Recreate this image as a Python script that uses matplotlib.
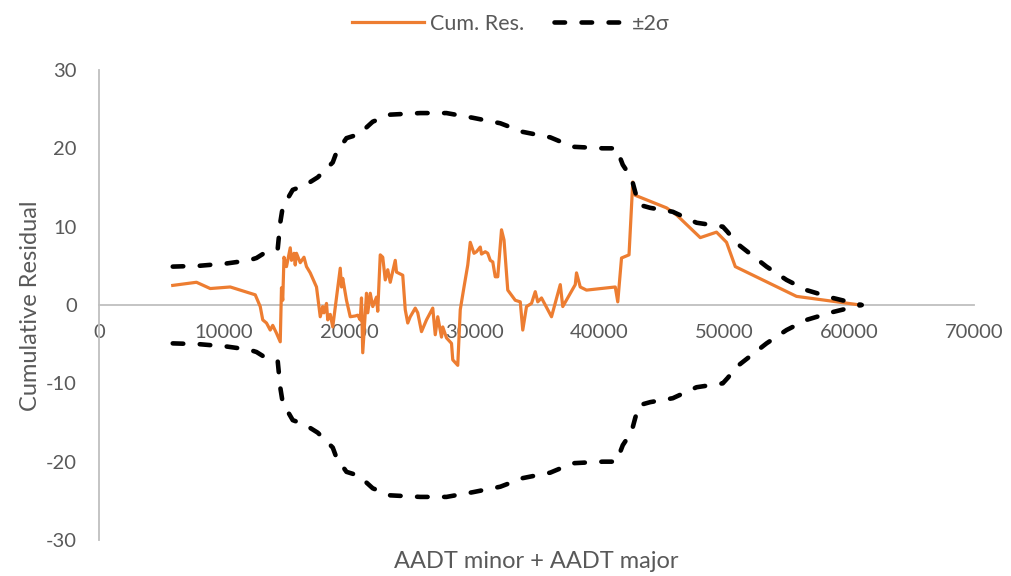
import numpy as np
import matplotlib.pyplot as plt

plt.rcParams['font.family'] = ['Lato', 'DejaVu Sans']
plt.rcParams['axes.unicode_minus'] = False

# cumulative residual
cum_x = [5900, 7800, 8900, 10500, 12500, 12900, 13100, 13400, 13700, 13900, 14200, 14500,
         14600, 14700, 14800, 15000, 15300, 15400, 15600, 15700, 15800, 16100, 16400, 16600,
         16900, 17400, 17700, 17900, 18000, 18200, 18300, 18500, 18700, 19300, 19400, 19500,
         19800, 20100, 20500, 20700, 20900, 21000, 21100, 21400, 21500, 21700, 21900, 22200,
         22300, 22500, 22700, 22900, 23100, 23300, 23700, 23800, 24300, 24500, 24700, 24900,
         25300, 25500, 25800, 26200, 26500, 26700, 26900, 27100, 27400, 27500, 27800, 28200,
         28300, 28700, 28900, 29200, 29500, 29700, 30000, 30200, 30500, 30600, 30900, 31100,
         31300, 31500, 31700, 31900, 32200, 32400, 32700, 33300, 33700, 33900, 34200, 34600,
         34900, 35100, 35400, 36200, 36900, 37100, 38100, 38200, 38500, 39000, 41300, 41500,
         41800, 42400, 42700, 42900, 45400, 46200, 48100, 49400, 50200, 50900, 55800, 60900]
cum_y = [2.5, 2.9, 2.1, 2.3, 1.3, -0.2, -1.9, -2.3, -3.2, -2.6, -3.6, -4.7,
         2.2, 0.6, 6.1, 4.9, 7.3, 5.7, 6.6, 5.1, 6.6, 5.4, 6.1, 4.9,
         4.1, 2.3, -1.5, -0.2, -1.0, 0.2, -1.9, -1.2, -2.8, 4.7, 2.3, 3.4,
         0.6, -1.5, -1.4, -1.3, -1.9, 0.9, -6.1, 1.5, -1.0, 1.5, -0.2, 1.0,
         -0.8, 6.4, 6.1, 3.2, 4.5, 2.9, 5.7, 4.2, 3.8, -0.6, -2.3, -1.5,
         -0.4, -1.0, -3.4, -1.9, -1.0, -0.4, -3.8, -1.5, -4.1, -2.8, -4.2, -4.9,
         -7.0, -7.7, -0.6, 2.3, 5.1, 8.0, 6.6, 6.8, 7.4, 6.5, 6.8, 6.6,
         5.7, 5.5, 3.6, 3.6, 9.6, 8.3, 1.9, 0.6, 0.4, -3.2, -0.2, 0.2,
         1.7, 0.4, 0.9, -1.5, 2.6, -0.2, 2.6, 4.1, 2.3, 1.9, 2.3, 0.4,
         6.0, 6.4, 15.7, 14.0, 12.4, 11.5, 8.6, 9.3, 8.0, 4.9, 1.1, 0.0]

# +2 sigma bound, the lower one is the mirror
sig_x = [5900, 8000, 10200, 12000, 12600, 13400, 14300, 14500, 14700, 15500, 16500, 17500,
         18700, 19000, 19800, 20800, 21900, 23300, 25700, 27800, 29900, 32100, 33900, 36100,
         37900, 40300, 41400, 41900, 42600, 42900, 43200, 44100, 45900, 47800, 49900, 50300,
         51000, 53400, 55000, 56600, 58700, 61000]
sig_y = [4.9, 5.0, 5.3, 5.7, 6.0, 6.8, 7.2, 10.5, 12.5, 14.7, 15.3, 16.3,
         18.2, 19.5, 21.3, 21.8, 23.4, 24.3, 24.5, 24.5, 23.9, 23.2, 22.1, 21.4,
         20.2, 20.0, 20.0, 17.9, 16.2, 14.4, 12.8, 12.4, 11.9, 10.5, 10.0, 9.3,
         7.9, 4.9, 3.2, 1.9, 0.9, 0.0]

txt = '#595959'
fig = plt.figure(figsize=(10.12, 5.76), dpi=100)
ax = fig.add_axes([0.0978, 0.0625, 0.8647, 0.816])

ax.plot(cum_x, cum_y, color='#ED7D31', lw=2.3, label='Cum. Res.', zorder=3)
ds = (0, (2.3, 3.6))
ax.plot(sig_x, sig_y, color='black', lw=3.3, ls=ds, dash_capstyle='round', label='±2σ', zorder=4)
ax.plot(sig_x, -np.array(sig_y), color='black', lw=3.3, ls=ds, dash_capstyle='round', zorder=4)

ax.set_xlim(0, 70000)
ax.set_ylim(-30, 30)
ax.set_xticks(np.arange(0, 70001, 10000))
ax.set_yticks(np.arange(-30, 31, 10))

for s in ['top', 'right']:
    ax.spines[s].set_visible(False)
ax.spines['bottom'].set_position(('data', 0))
ax.spines['bottom'].set_color('#BFBFBF')
ax.spines['left'].set_color('#BFBFBF')
ax.spines['bottom'].set_linewidth(1.3)
ax.spines['left'].set_linewidth(1.3)
ax.tick_params(length=0, labelsize=14.5, colors=txt)
ax.tick_params(axis='x', pad=14)
ax.tick_params(axis='y', pad=16)

fig.text(0.53, 0.025, 'AADT minor + AADT major', ha='center', va='center', fontsize=17, color=txt)
fig.text(0.03, 0.47, 'Cumulative Residual', ha='center', va='center', rotation=90, fontsize=17, color=txt)

fig.legend(loc='upper center', bbox_to_anchor=(0.505, 1.01), ncol=2, frameon=False, fontsize=15.5,
           labelcolor=txt, handlelength=3.3, columnspacing=1.4, handletextpad=0.3)

fig.savefig('out.png', dpi=100)
